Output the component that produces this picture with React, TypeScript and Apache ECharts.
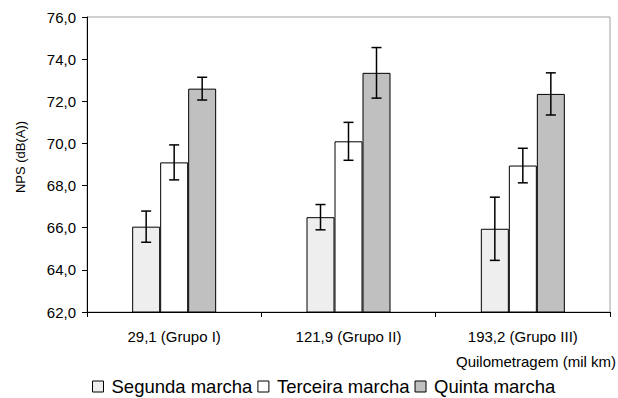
import React, { useEffect, useRef } from "react";
import * as echarts from "echarts";

const categories = ["29,1 (Grupo I)", "121,9 (Grupo II)", "193,2 (Grupo III)"];
const seriesNames = ["Segunda marcha", "Terceira marcha", "Quinta marcha"];
const segunda = [66.05, 66.5, 65.95];
const terceira = [69.1, 70.1, 68.95];
const quinta = [72.6, 73.35, 72.35];
const segundaErr = [0.74, 0.6, 1.5];
const terceiraErr = [0.83, 0.9, 0.82];
const quintaErr = [0.54, 1.2, 1.0];
const yTicks = [62, 64, 66, 68, 70, 72, 74, 76];

const colors = ["#eeeeee", "#ffffff", "#c0c0c0"];
const FONT = "'Liberation Sans', Arial, sans-serif";
const BAR_W = 28;

export default function App() {
  const ref = useRef<HTMLDivElement>(null);
  useEffect(() => {
    if (!ref.current) return;
    const chart = echarts.init(ref.current, undefined, { renderer: "svg" });
    const values = [segunda, terceira, quinta];
    const errs = [segundaErr, terceiraErr, quintaErr];
    const errData: number[][] = [];
    values.forEach((vals, s) => {
      vals.forEach((v, i) => {
        errData.push([i, v - errs[s][i], v + errs[s][i], s]);
      });
    });
    chart.setOption({
      animation: false,
      textStyle: { fontFamily: FONT },
      grid: {
        left: 87,
        top: 17,
        right: 8,
        bottom: 86,
        show: true,
        borderColor: "#a0a0a0",
        borderWidth: 1,
        backgroundColor: "transparent",
      },
      legend: {
        left: 92,
        top: 377,
        padding: 0,
        itemWidth: 11,
        itemHeight: 11,
        itemGap: 5,
        icon: "rect",
        data: seriesNames,
        textStyle: {
          fontFamily: FONT,
          fontSize: 18.5,
          lineHeight: 19,
          color: "#000",
          padding: [0, 0, 0, 3],
        },
        itemStyle: { borderColor: "#000", borderWidth: 1 },
      },
      xAxis: {
        type: "category",
        data: categories,
        axisLine: { lineStyle: { color: "#000", width: 1 } },
        axisTick: { show: true, length: 5, lineStyle: { color: "#000" } },
        axisLabel: { color: "#000", fontSize: 15, fontFamily: FONT, margin: 17 },
      },
      yAxis: {
        type: "value",
        min: 62,
        max: 76,
        interval: 2,
        axisLine: { show: true, lineStyle: { color: "#000", width: 1 } },
        axisTick: { show: true, length: 5, lineStyle: { color: "#000" } },
        splitLine: { show: false },
        axisLabel: {
          color: "#000",
          fontSize: 15,
          fontFamily: FONT,
          margin: 11,
          formatter: (v: number) => (yTicks.includes(v) ? v.toFixed(1).replace(".", ",") : ""),
        },
      },
      graphic: [
        {
          type: "text",
          x: 20,
          y: 157,
          rotation: Math.PI / 2,
          style: {
            text: "NPS (dB(A))",
            fontSize: 13,
            fontFamily: FONT,
            fill: "#000",
            align: "center",
            verticalAlign: "middle",
          },
        },
        {
          type: "text",
          right: 2,
          top: 354,
          style: {
            text: "Quilometragem (mil km)",
            fontSize: 15,
            fontFamily: FONT,
            fill: "#000",
          },
        },
      ],
      series: [
        ...values.map((vals, s) => ({
          type: "bar",
          name: seriesNames[s],
          data: vals,
          barWidth: BAR_W,
          barGap: "0%",
          itemStyle: { color: colors[s], borderColor: "#000", borderWidth: 1 },
        })),
        {
          type: "custom",
          data: errData,
          z: 10,
          silent: true,
          renderItem: (params: any, api: any) => {
            const idx = api.value(0);
            const s = api.value(3);
            const lo = api.coord([idx, api.value(1)]);
            const hi = api.coord([idx, api.value(2)]);
            const x = lo[0] + (s - 1) * BAR_W;
            const cap = 5;
            const ls = { stroke: "#000", lineWidth: 1.5 };
            return {
              type: "group",
              children: [
                { type: "line", shape: { x1: x, y1: lo[1], x2: x, y2: hi[1] }, style: ls },
                { type: "line", shape: { x1: x - cap, y1: lo[1], x2: x + cap, y2: lo[1] }, style: ls },
                { type: "line", shape: { x1: x - cap, y1: hi[1], x2: x + cap, y2: hi[1] }, style: ls },
              ],
            };
          },
        },
      ],
    });
    return () => chart.dispose();
  }, []);
  return <div ref={ref} style={{ width: 618, height: 398, position: "absolute", left: 0, top: 0 }} />;
}
